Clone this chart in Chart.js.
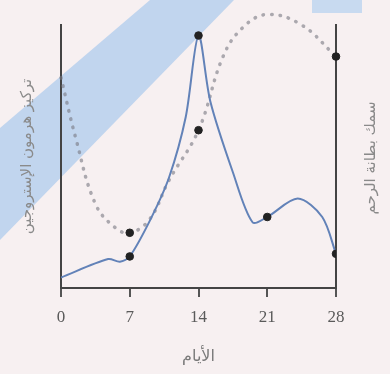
<!DOCTYPE html>
<html lang="ar">
<head>
<meta charset="utf-8">
<script src="https://cdn.jsdelivr.net/npm/chart.js@4"></script>
<style>
html, body { margin: 0; padding: 0; background: #f7f0f1; }
#wrap { width: 390px; height: 374px; }
</style>
</head>
<body>
<div id="wrap"><canvas id="hormoneChart" width="390" height="374"></canvas></div>
<script>
// الأيام على المحور الأفقي
const dayTicks = [0, 7, 14, 21, 28];
const markerDays = [7, 14, 21, 28];

// تركيز هرمون الإستروجين (الخط المتصل)
const estrogenDays = [0, 4.8, 6, 7, 9.1, 11, 12.7, 14, 15.2, 17.5, 19.5, 21, 24.1, 26.6, 28];
const estrogenValues = [4, 11, 10, 12, 26, 42, 65, 96, 71, 44, 25, 27, 34, 27, 13];

// سمك بطانة الرحم (الخط المنقط)
const thicknessDays = [0, 1.5, 3.5, 5.5, 7, 9, 11, 14, 16.5, 18.5, 21, 24.5, 28];
const thicknessValues = [80, 57, 32, 23, 21, 26, 41, 60, 88, 99, 104, 100, 88];

const xTitle = 'الأيام';
const leftTitle = 'تركيز هرمون الإستروجين';
const rightTitle = 'سمك بطانة الرحم';

const toPoints = (days, vals) => days.map((d, i) => ({ x: d, y: vals[i] }));
const radii = days => days.map(d => markerDays.includes(d) ? 3.8 : 0);

// خلفية الصفحة مع الشريط الأزرق المائل
const backgroundPlugin = {
    id: 'pageBackground',
    beforeDraw(chart) {
        const c = chart.ctx;
        c.save();
        c.fillStyle = '#f7f0f1';
        c.fillRect(0, 0, chart.width, chart.height);
        c.fillStyle = 'rgb(193, 213, 238)';
        c.beginPath();
        c.moveTo(150, 0); c.lineTo(234, 0); c.lineTo(0, 240); c.lineTo(0, 128);
        c.closePath();
        c.fill();
        c.fillStyle = 'rgb(200, 218, 240)';
        c.fillRect(312, 0, 50, 13);
        c.restore();
    }
};

// عنوان المحور الأيمن
const rightTitlePlugin = {
    id: 'rightTitle',
    afterDraw(chart) {
        const c = chart.ctx;
        c.save();
        c.translate(371, 158);
        c.rotate(-Math.PI / 2);
        c.font = '15px "DejaVu Sans"';
        c.fillStyle = '#8a8a8a';
        c.textAlign = 'center';
        c.textBaseline = 'middle';
        c.fillText(rightTitle, 0, 0);
        c.restore();
    }
};

const ctx = document.getElementById('hormoneChart').getContext('2d');

const hormoneChart = new Chart(ctx, {
    type: 'line',
    data: {
        datasets: [{
            label: 'estrogen',
            data: toPoints(estrogenDays, estrogenValues),
            yAxisID: 'y',
            borderColor: 'rgb(98, 130, 184)',
            borderWidth: 2,
            tension: 0.3,
            pointRadius: radii(estrogenDays),
            pointBorderWidth: 1,
            pointBackgroundColor: '#222',
            pointBorderColor: '#222',
            fill: false
        }, {
            label: 'thickness',
            data: toPoints(thicknessDays, thicknessValues),
            yAxisID: 'y2',
            borderColor: 'rgba(120, 120, 130, 0.6)',
            borderWidth: 3.5,
            borderDash: [0.5, 8],
            borderCapStyle: 'round',
            tension: 0.4,
            pointRadius: radii(thicknessDays),
            pointBorderWidth: 1,
            pointBackgroundColor: '#222',
            pointBorderColor: '#222',
            clip: false,
            fill: false
        }]
    },
    options: {
        responsive: false,
        animation: false,
        layout: { padding: { top: 25, left: 0, right: 0, bottom: 0 } },
        plugins: { legend: { display: false }, tooltip: { enabled: false } },
        scales: {
            x: {
                type: 'linear',
                min: 0,
                max: 28,
                afterBuildTicks: s => { s.ticks = dayTicks.map(v => ({ value: v })); },
                afterFit: s => { s.height = 86; },
                grid: { drawOnChartArea: false, drawTicks: true, tickLength: 9, color: '#555', lineWidth: 2 },
                border: { display: true, color: '#444', width: 2 },
                ticks: { color: '#5a5a5a', padding: 10, font: { family: '"Liberation Serif"', size: 17 } },
                title: {
                    display: true,
                    text: xTitle,
                    color: '#7a7a7a',
                    font: { family: '"DejaVu Sans"', size: 16 },
                    padding: { top: 0, bottom: 8 }
                }
            },
            y: {
                position: 'left',
                min: 0,
                max: 100,
                afterFit: s => { s.width = 61; },
                ticks: { display: false },
                grid: { drawOnChartArea: false, drawTicks: false },
                border: { display: true, color: '#444', width: 2 },
                title: {
                    display: true,
                    text: leftTitle,
                    color: '#8a8a8a',
                    font: { family: '"DejaVu Sans"', size: 15 },
                    padding: { top: 18, bottom: 0 }
                }
            },
            y2: {
                position: 'right',
                min: 0,
                max: 100,
                afterFit: s => { s.width = 54; },
                ticks: { display: false },
                grid: { drawOnChartArea: false, drawTicks: false },
                border: { display: true, color: '#444', width: 2 }
            }
        }
    },
    plugins: [backgroundPlugin, rightTitlePlugin]
});
</script>
</body>
</html>
